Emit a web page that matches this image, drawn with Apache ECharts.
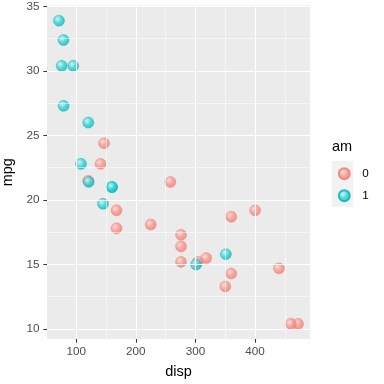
<!DOCTYPE html>
<html><head><meta charset="utf-8">
<script src="https://cdn.jsdelivr.net/npm/echarts@6/dist/echarts.min.js"></script>
<style>html,body{margin:0;padding:0;background:#fff}#c{width:384px;height:384px}</style>
</head><body><div id="c"></div>
<script>
// am = 0
const disp0 = [258, 360, 225, 360, 146.7, 140.8, 167.6, 167.6, 275.8, 275.8, 275.8, 472, 460, 440, 120.1, 318, 304, 350, 400];
const mpg0  = [21.4, 18.7, 18.1, 14.3, 24.4, 22.8, 19.2, 17.8, 16.4, 17.3, 15.2, 10.4, 10.4, 14.7, 21.5, 15.5, 15.2, 13.3, 19.2];
// am = 1
const disp1 = [160, 160, 108, 78.7, 75.7, 71.1, 79, 120.3, 95.1, 351, 145, 301, 121];
const mpg1  = [21, 21, 22.8, 32.4, 30.4, 33.9, 27.3, 26, 30.4, 15.8, 19.7, 15, 21.4];
const xTicks = [100, 200, 300, 400];
const xMinor = [150, 250, 350, 450];
const yTicks = [10, 15, 20, 25, 30, 35];
const yMinor = [12.5, 17.5, 22.5, 27.5, 32.5];
const groups = ['0', '1'];

const xLo = 71.1, xHi = 472, yLo = 10.4, yHi = 33.9;
const xPad = (xHi - xLo) * 0.05, yPad = (yHi - yLo) * 0.05;

function grad(light, base, edge) {
  return new echarts.graphic.RadialGradient(0.38, 0.36, 0.7, [
    {offset: 0, color: light}, {offset: 0.5, color: base}, {offset: 1, color: edge}
  ]);
}
const styles = [
  {color: grad('#FFD8D4', '#F9928A', '#F27A70'), borderColor: '#EE7A71', borderWidth: 0.5},
  {color: grad('#C4F6F6', '#30D0D3', '#00B9BD'), borderColor: '#00B0B4', borderWidth: 0.5}
];
const zip = (a, b) => a.map((v, i) => [v, b[i]]);

const gridLines = [
  ...xTicks.map(v => ({xAxis: v, lineStyle: {width: 1.1}})),
  ...xMinor.map(v => ({xAxis: v, lineStyle: {width: 0.55}})),
  ...yTicks.map(v => ({yAxis: v, lineStyle: {width: 1.1}})),
  ...yMinor.map(v => ({yAxis: v, lineStyle: {width: 0.55}}))
];

const font = 'Liberation Sans, Arial, sans-serif';
const chart = echarts.init(document.getElementById('c'), null, {renderer: 'canvas'});
chart.setOption({
  animation: false,
  grid: {left: 47, right: 74, top: 5.5, bottom: 45, show: true, backgroundColor: '#EBEBEB', borderWidth: 0,
         containLabel: false, outerBoundsMode: 'none'},
  xAxis: {
    type: 'value', min: xLo - xPad, max: xHi + xPad,
    name: 'disp', nameLocation: 'middle', nameGap: 25,
    nameTextStyle: {fontFamily: font, fontSize: 14.5, color: '#000'},
    axisLine: {show: false}, splitLine: {show: false},
    axisTick: {show: true, length: 3.7, lineStyle: {color: '#333', width: 1.07}, customValues: xTicks},
    axisLabel: {fontFamily: font, fontSize: 11.7, color: '#4D4D4D', margin: 7, customValues: xTicks}
  },
  yAxis: {
    type: 'value', min: yLo - yPad, max: yHi + yPad,
    name: 'mpg', nameLocation: 'middle', nameGap: 28, nameRotate: 90,
    nameTextStyle: {fontFamily: font, fontSize: 14.5, color: '#000'},
    axisLine: {show: false}, splitLine: {show: false},
    axisTick: {show: true, length: 3.7, lineStyle: {color: '#333', width: 1.07}, customValues: yTicks},
    axisLabel: {fontFamily: font, fontSize: 11.7, color: '#4D4D4D', margin: 7.5, customValues: yTicks}
  },
  legend: {
    orient: 'vertical', left: 337.8, top: 167.2, padding: 0, itemWidth: 11, itemHeight: 11, itemGap: 9,
    icon: 'circle', data: groups,
    textStyle: {fontFamily: font, fontSize: 11.7, color: '#000', lineHeight: 11, padding: [0, 0, 0, 7.5]}
  },
  graphic: [
    {type: 'rect', left: 331.7, top: 161, shape: {width: 21.6, height: 46}, style: {fill: '#F2F2F2'}, z: -1},
    {type: 'text', left: 332, top: 139, style: {text: 'am', fontFamily: font, fontSize: 14.5, fill: '#000'}}
  ],
  series: [
    {type: 'scatter', data: [[xTicks[0], yTicks[0]]], symbolSize: 0, silent: true, z: 1,
     markLine: {silent: true, symbol: 'none', label: {show: false}, animation: false,
       lineStyle: {color: '#FFFFFF', type: 'solid'}, data: gridLines}},
    {type: 'scatter', name: groups[0], data: zip(disp0, mpg0), symbolSize: 11, itemStyle: styles[0], z: 3},
    {type: 'scatter', name: groups[1], data: zip(disp1, mpg1), symbolSize: 11, itemStyle: styles[1], z: 3}
  ]
});
</script></body></html>
